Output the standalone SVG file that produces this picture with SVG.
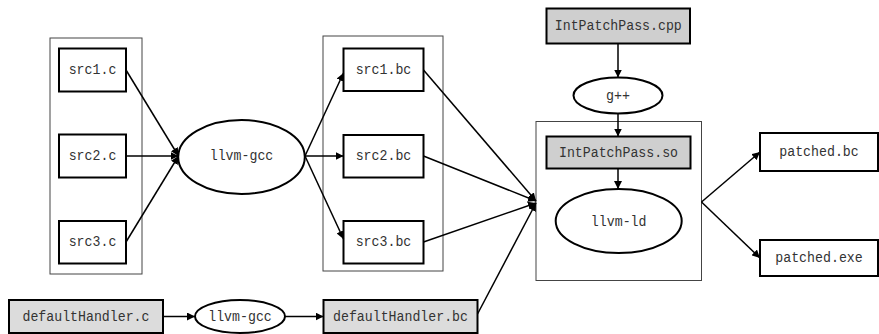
<svg xmlns="http://www.w3.org/2000/svg" width="879" height="334" viewBox="0 0 879 334">
<style>
.cont{fill:#fff;stroke:#444;stroke-width:1}
.box{fill:#fff;stroke:#000;stroke-width:2}
.gray{fill:#dcdcdc;stroke:#000;stroke-width:2}
.gray2{fill:#cfcfcf;stroke:#000;stroke-width:2}
.ell{fill:#fff;stroke:#000;stroke-width:2}
text{font-family:"Liberation Mono","DejaVu Sans Mono",monospace;font-size:14.5px;fill:#333;text-anchor:middle;dominant-baseline:central}
.edge{stroke:#000;stroke-width:1.5;fill:none;marker-end:url(#arr)}
</style>
<defs>
<marker id="arr" viewBox="0 0 10 10" refX="10" refY="5" markerWidth="8" markerHeight="8" markerUnits="userSpaceOnUse" orient="auto">
<path d="M0,0 L10,5 L0,10 z" fill="#000"/>
</marker>
</defs>
<rect width="879" height="334" fill="#fff"/>
<g id="containers">
<rect class="cont" x="50" y="38" width="92" height="236"/>
<rect class="cont" x="323" y="36" width="120" height="235"/>
<rect class="cont" x="536" y="121.5" width="165.5" height="159"/>
</g>
<g id="src1c"><rect class="box" x="59" y="48.5" width="67" height="43"/><text x="92.5" y="70" textLength="47.7" lengthAdjust="spacingAndGlyphs">src1.c</text></g>
<g id="src2c"><rect class="box" x="59" y="134.5" width="67" height="43"/><text x="92.5" y="156" textLength="47.7" lengthAdjust="spacingAndGlyphs">src2.c</text></g>
<g id="src3c"><rect class="box" x="59" y="221" width="67" height="42.5"/><text x="92.5" y="242" textLength="47.7" lengthAdjust="spacingAndGlyphs">src3.c</text></g>
<g id="llvmgcc1"><ellipse class="ell" cx="241.5" cy="157" rx="63.3" ry="37"/><text x="241.5" y="156" textLength="63.6" lengthAdjust="spacingAndGlyphs">llvm-gcc</text></g>
<g id="src1bc"><rect class="box" x="343.5" y="48.5" width="80" height="42.5"/><text x="383.5" y="70" textLength="55.7" lengthAdjust="spacingAndGlyphs">src1.bc</text></g>
<g id="src2bc"><rect class="box" x="343.5" y="135" width="80" height="42.5"/><text x="383.5" y="156" textLength="55.7" lengthAdjust="spacingAndGlyphs">src2.bc</text></g>
<g id="src3bc"><rect class="box" x="343.5" y="221" width="80" height="42.5"/><text x="383.5" y="242" textLength="55.7" lengthAdjust="spacingAndGlyphs">src3.bc</text></g>
<g id="defaultHandlerC"><rect class="gray" x="9" y="300" width="154" height="33"/><text x="86" y="316.5" textLength="127" lengthAdjust="spacingAndGlyphs">defaultHandler.c</text></g>
<g id="llvmgcc2"><ellipse class="ell" cx="240" cy="316.5" rx="45" ry="16.5"/><text x="240" y="316.5" textLength="63.6" lengthAdjust="spacingAndGlyphs">llvm-gcc</text></g>
<g id="defaultHandlerBC"><rect class="gray" x="323.5" y="300" width="154" height="33"/><text x="400.5" y="316.5" textLength="135" lengthAdjust="spacingAndGlyphs">defaultHandler.bc</text></g>
<g id="cpp"><rect class="gray2" x="546.5" y="8.5" width="143.5" height="35"/><text x="618.3" y="26" textLength="127" lengthAdjust="spacingAndGlyphs">IntPatchPass.cpp</text></g>
<g id="gpp"><ellipse class="ell" cx="618" cy="95.5" rx="44.5" ry="18"/><text x="618" y="95.5" textLength="24" lengthAdjust="spacingAndGlyphs">g++</text></g>
<g id="so"><rect class="gray2" x="546.5" y="136.5" width="144" height="32"/><text x="618.5" y="152.5" textLength="119" lengthAdjust="spacingAndGlyphs">IntPatchPass.so</text></g>
<g id="llvmld"><ellipse class="ell" cx="618.7" cy="221" rx="63" ry="32"/><text x="618.7" y="222" textLength="55.7" lengthAdjust="spacingAndGlyphs">llvm-ld</text></g>
<g id="patchedbc"><rect class="box" x="760" y="133" width="118" height="38"/><text x="819" y="152" textLength="79.5" lengthAdjust="spacingAndGlyphs">patched.bc</text></g>
<g id="patchedexe"><rect class="box" x="760" y="240" width="118" height="36"/><text x="819" y="258" textLength="87.5" lengthAdjust="spacingAndGlyphs">patched.exe</text></g>
<g id="connectors">
<line class="edge" x1="126" y1="70" x2="178.5" y2="156"/>
<line class="edge" x1="126" y1="156" x2="178.5" y2="156"/>
<line class="edge" x1="126" y1="242" x2="178.5" y2="156"/>
<line class="edge" x1="305" y1="156" x2="343.5" y2="73"/>
<line class="edge" x1="305" y1="156" x2="343.5" y2="156"/>
<line class="edge" x1="305" y1="156" x2="343.5" y2="239"/>
<line class="edge" x1="423.5" y1="70" x2="536" y2="201"/>
<line class="edge" x1="423.5" y1="156" x2="536" y2="201"/>
<line class="edge" x1="423.5" y1="242" x2="536" y2="203"/>
<line class="edge" x1="477.5" y1="314" x2="536" y2="203"/>
<line class="edge" x1="163" y1="316.5" x2="195" y2="316.5"/>
<line class="edge" x1="285" y1="316.5" x2="323.5" y2="316.5"/>
<line class="edge" x1="618" y1="43.5" x2="618" y2="77.5"/>
<line class="edge" x1="618" y1="113.5" x2="618" y2="136.5"/>
<line class="edge" x1="618" y1="168.5" x2="618" y2="189"/>
<line class="edge" x1="701.5" y1="202" x2="760" y2="152"/>
<line class="edge" x1="701.5" y1="202" x2="760" y2="258"/>
</g>
</svg>
